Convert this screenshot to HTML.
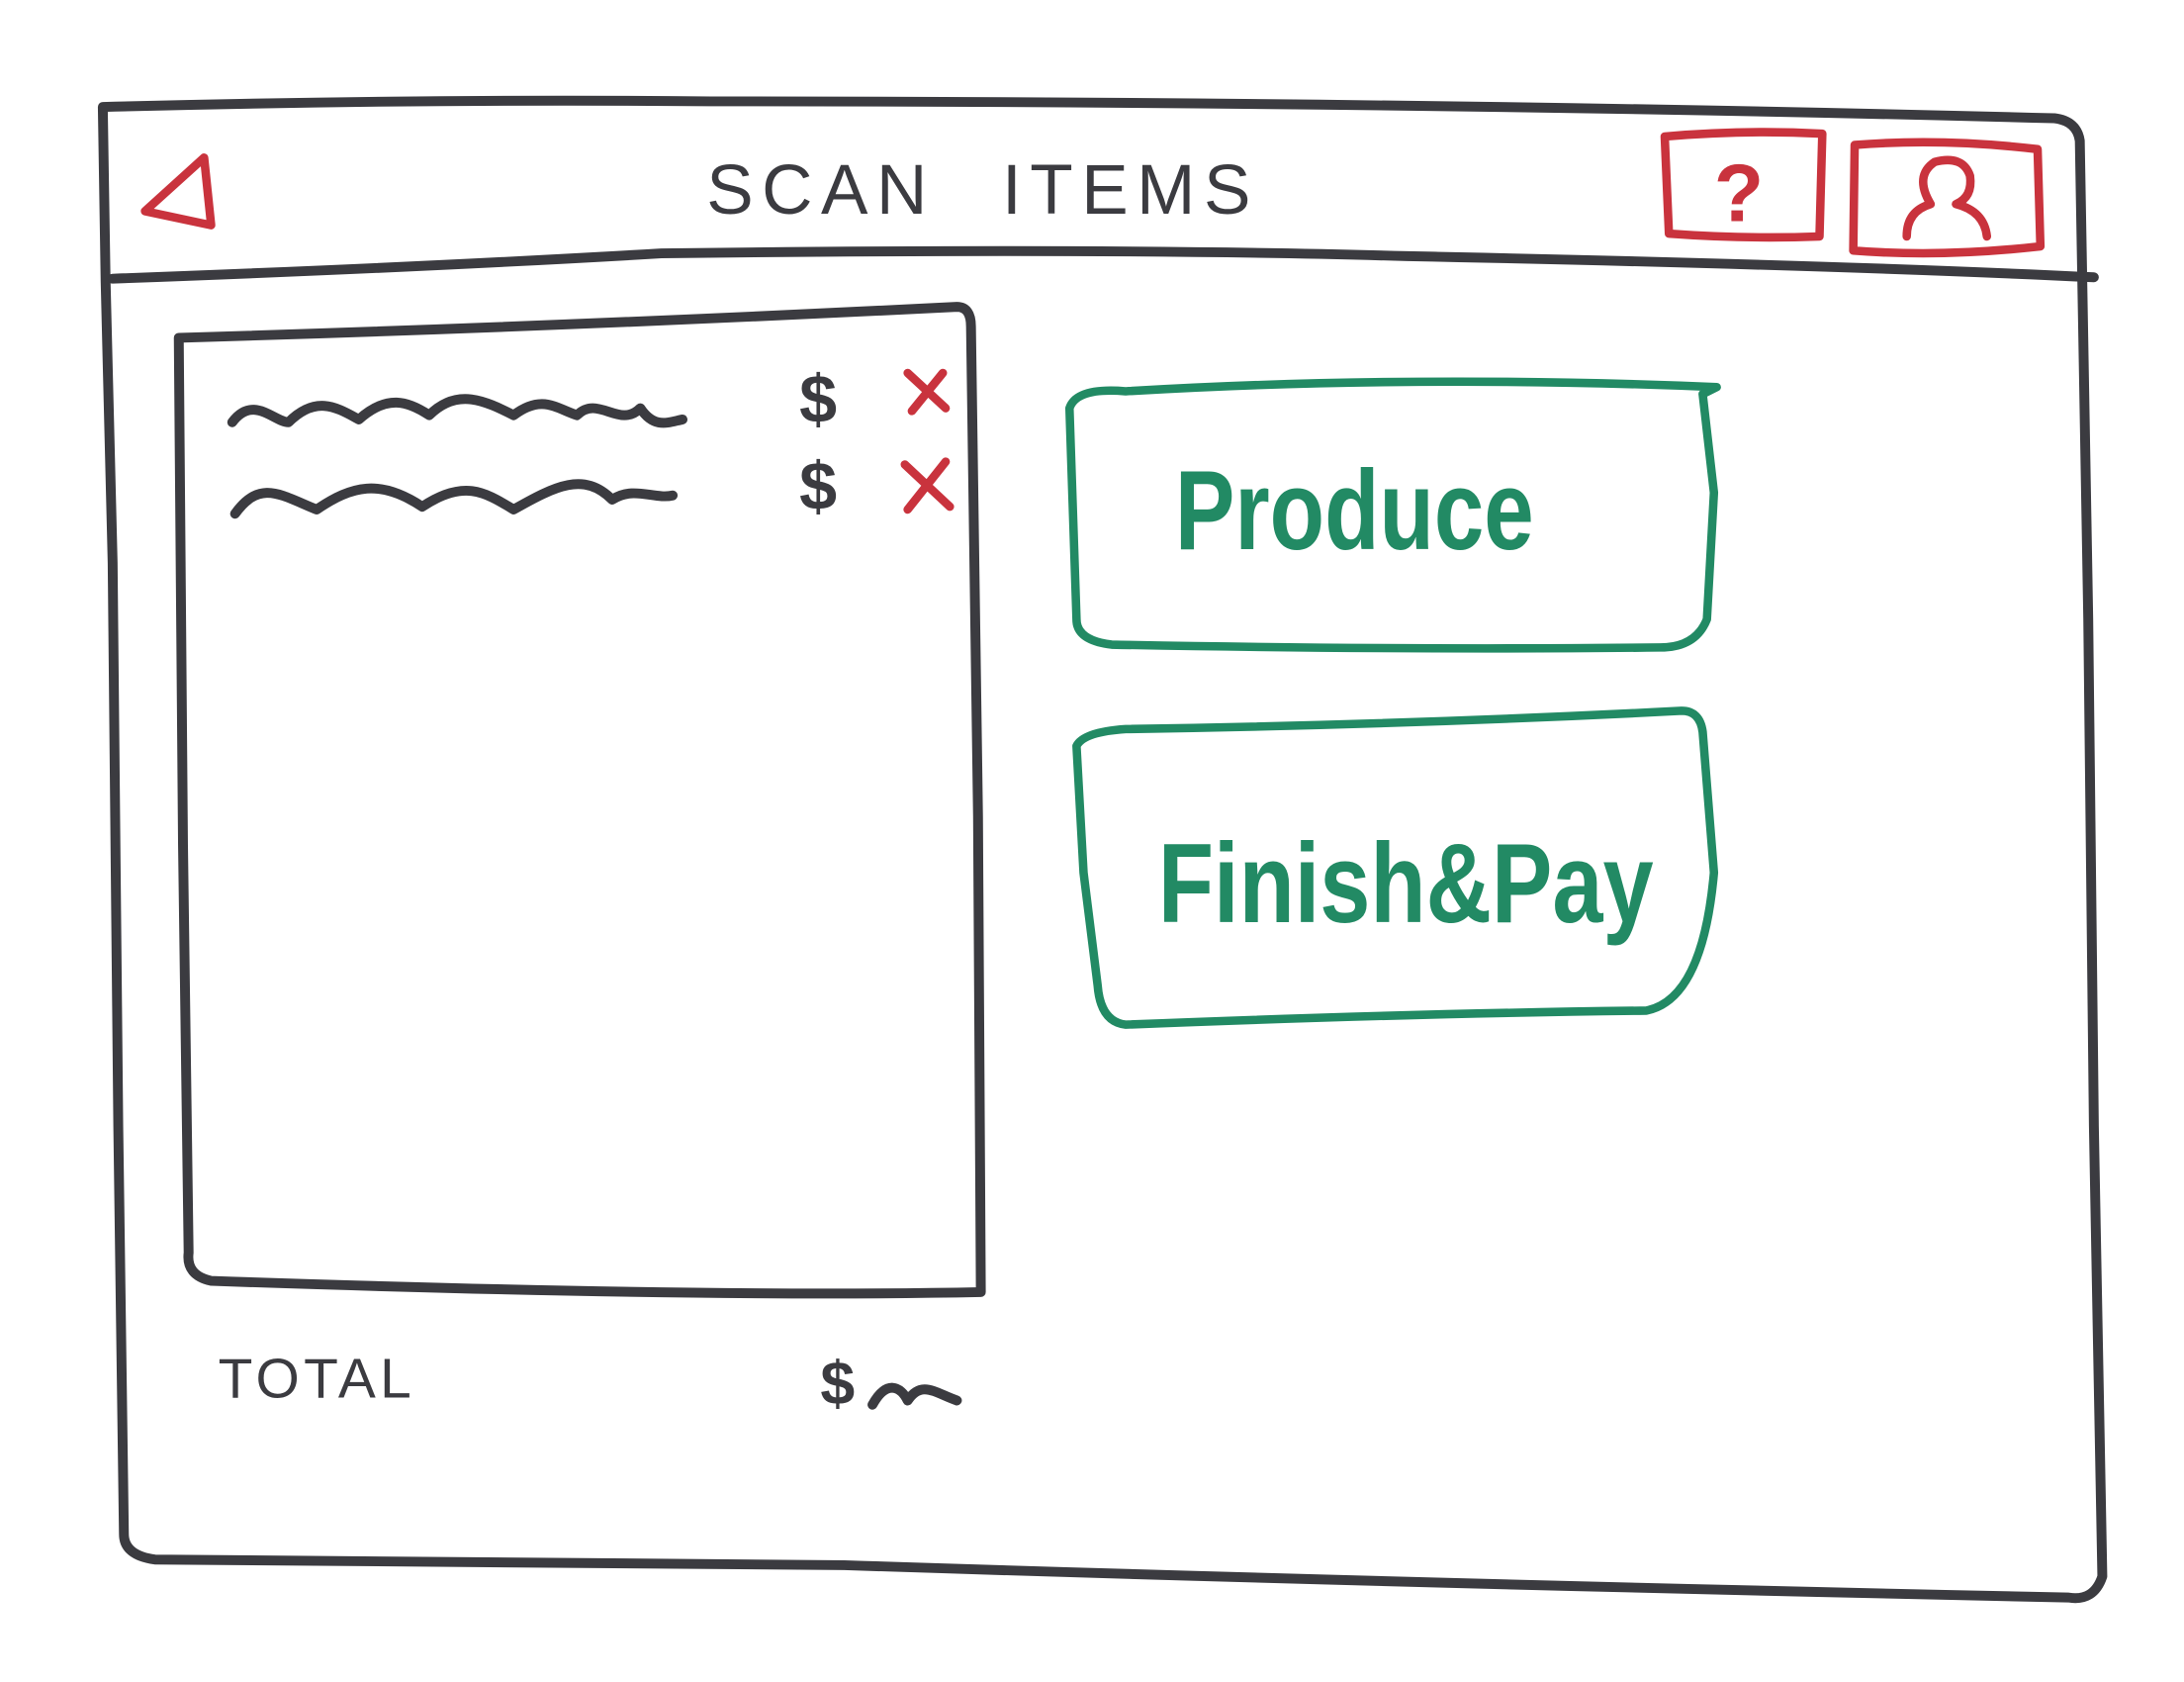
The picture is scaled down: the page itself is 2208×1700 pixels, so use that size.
<!DOCTYPE html>
<html><head><meta charset="utf-8"><style>
html,body{margin:0;padding:0;background:#fff;}
svg{display:block;}
</style></head><body>
<svg width="2208" height="1700" viewBox="0 0 1552 1195" xmlns="http://www.w3.org/2000/svg">
<rect width="1552" height="1195" fill="#fff"/>
<g fill="none" stroke="#3b3b40" stroke-width="7" stroke-linecap="round" stroke-linejoin="round">
<path d="M73,76 Q300,70 505,72 Q1000,72 1460,84 Q1476,86 1478,100 L1484,440 L1488,800 L1494,1120 Q1488,1138 1470,1135 Q1000,1125 600,1112 L110,1108 Q88,1105 88,1090 L84,800 L80,400 L75,200 Z"/>
<path d="M80,198 Q300,190 470,180 Q800,176 1000,182 Q1300,188 1488,197"/>
<path d="M127,240 Q400,232 680,218 Q690,218 690,232 L695,580 L697,918 Q500,922 150,910 Q132,906 134,890 L130,600 L127,240"/>
<path d="M165,300 C180,280 195,300 205,300 C225,280 240,290 255,298 C275,280 290,285 305,295 C325,275 345,285 365,295 C385,280 395,290 410,295 C425,280 440,305 455,290 C465,305 475,300 485,298"/>
<path d="M167,365 C185,340 200,352 225,362 C250,345 270,340 300,360 C330,340 345,350 365,362 C395,345 415,335 435,355 C450,345 465,355 478,352"/>
<path d="M620,998 C630,980 640,985 645,995 C655,980 665,990 680,995"/>
</g>
<g font-family="Liberation Sans, sans-serif" fill="#3b3b40">
<text x="502" y="152" font-size="50" letter-spacing="6">SCAN</text>
<text x="712" y="152" font-size="50" letter-spacing="6">ITEMS</text>
<text x="155" y="993" font-size="40" letter-spacing="3">TOTAL</text>
<text x="568" y="300" font-size="48" font-weight="bold">$</text>
<text x="568" y="362" font-size="48" font-weight="bold">$</text>
<text x="583" y="998" font-size="44" font-weight="bold">$</text>
</g>
<g fill="none" stroke="#c9333d" stroke-width="6" stroke-linecap="round" stroke-linejoin="round">
<path d="M103,150 L145,112 L150,160 Z"/>
<path d="M1183,97 Q1240,92 1295,95 L1293,168 Q1240,170 1186,166 Z"/>
<path d="M1318,103 Q1380,98 1448,106 L1450,175 Q1380,183 1317,178 Z"/>
<path d="M1355,168 Q1355,150 1372,145 Q1360,125 1375,115 Q1395,110 1400,125 Q1402,140 1390,145 Q1410,150 1412,168"/>
<path d="M645,265 L672,290 M670,265 L648,292"/>
<path d="M643,330 L675,360 M672,328 L645,362"/>
</g>
<text x="1218" y="157" font-family="Liberation Sans, sans-serif" font-size="58" font-weight="bold" fill="#c9333d">?</text>
<g fill="none" stroke="#228a64" stroke-width="6" stroke-linecap="round" stroke-linejoin="round">
<path d="M760,290 Q765,275 800,278 Q1000,266 1220,275 L1210,280 L1218,350 L1213,440 Q1205,460 1180,460 Q1000,462 790,458 Q765,455 765,440 Z"/>
<path d="M765,530 Q770,520 800,518 Q1000,515 1195,505 Q1208,505 1210,520 L1218,620 Q1210,710 1170,718 Q1000,720 800,728 Q782,726 780,700 L770,620 Z"/>
</g>
<g font-family="Liberation Sans, sans-serif" fill="#228a64" font-weight="bold">
<text x="835" y="390" font-size="80" textLength="255" lengthAdjust="spacingAndGlyphs">Produce</text>
<text x="823" y="655" font-size="80" textLength="352" lengthAdjust="spacingAndGlyphs">Finish&amp;Pay</text>
</g>
</svg>
</body></html>
